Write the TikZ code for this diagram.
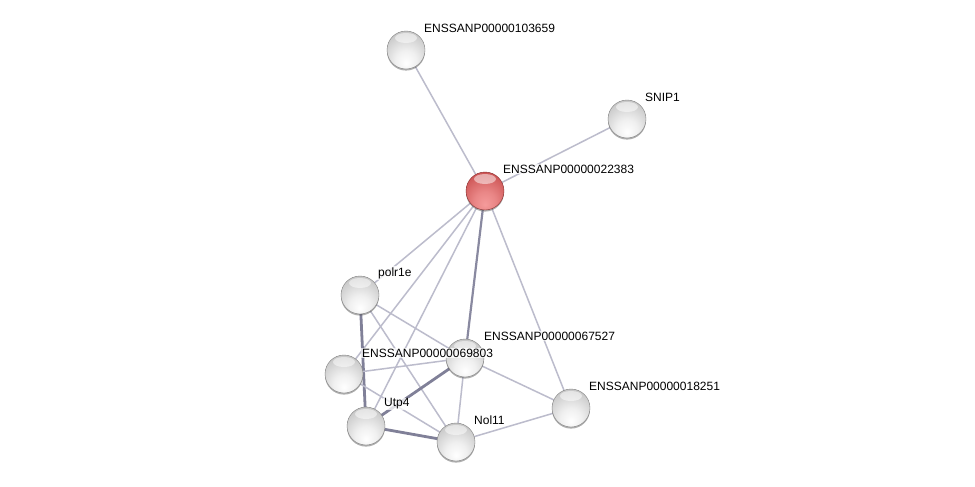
\documentclass[tikz,border=0pt]{standalone}
\usepackage{fontspec}
\setmainfont{Liberation Sans}
\usetikzlibrary{shadows}
\pgfdeclarelayer{bg}
\pgfsetlayers{bg,main}
\definecolor{edgethin}{RGB}{188,188,204}
\definecolor{edgethick}{RGB}{128,128,152}
\definecolor{redrim}{RGB}{180,62,62}
\definecolor{redmid}{RGB}{205,85,85}
\definecolor{redlow}{RGB}{245,155,155}
\pgfdeclareradialshading{stringball}{\pgfpoint{0bp}{-18bp}}{color(0bp)=(white); color(14bp)=(black!6); color(34bp)=(black!22); color(52bp)=(black!27); color(62bp)=(black!38); color(72bp)=(black!50)}
\pgfdeclareradialshading{stringred}{\pgfpoint{0bp}{-18bp}}{color(0bp)=(redlow); color(14bp)=(redlow!70!redmid); color(34bp)=(redmid); color(55bp)=(redmid!85!redrim); color(72bp)=(redrim)}
\begin{document}
\begin{tikzpicture}[x=1pt,y=-1pt,
  prot/.style={circle, minimum size=38pt, inner sep=0pt, shading=stringball, draw=black!50, line width=0.4pt,
     drop shadow={shadow xshift=0pt, shadow yshift=-1.6pt, opacity=0.45, fill=black!70},
     path picture={\fill[white, opacity=0.5] ([yshift=-7pt]path picture bounding box.north) ellipse (11pt and 5pt);}},
  query/.style={prot, shading=stringred, draw=redrim!75!black},
  thin/.style={draw=edgethin, line width=1.5pt},
  mid/.style={draw=edgethick!85!edgethin, line width=2.2pt},
  thick/.style={draw=edgethick, line width=2.8pt},
  lbl/.style={anchor=west, font=\fontsize{12}{14}\selectfont, fill=white, fill opacity=0.75, text opacity=1, inner sep=1pt}]
\begin{pgfonlayer}{bg}
\fill[white] (0,0) rectangle (975,487);
\end{pgfonlayer}
\useasboundingbox (0,0) rectangle (975,487);
\node[prot] (n103659) at (406,50) {};
\node[prot] (snip1) at (627,119) {};
\node[query] (n22383) at (485,191) {};
\node[prot] (polr1e) at (360,295) {};
\node[prot] (n69803) at (344,374) {};
\node[prot] (n67527) at (465,358) {};
\node[prot] (utp4) at (366,426) {};
\node[prot] (nol11) at (456,442) {};
\node[prot] (n18251) at (571,408) {};
\begin{pgfonlayer}{bg}
\draw[thin] (n22383.center) -- (n103659.center);
\draw[thin] (n22383.center) -- (snip1.center);
\draw[thin] (n22383.center) -- (polr1e.center);
\draw[thin] (n22383.center) -- (n69803.center);
\draw[thin] (n22383.center) -- (utp4.center);
\draw[mid] (n22383.center) -- (n67527.center);
\draw[thin] (n22383.center) -- (n18251.center);
\draw[thick] (polr1e.center) -- (utp4.center);
\draw[thin] (polr1e.center) -- (n67527.center);
\draw[thin] (polr1e.center) -- (nol11.center);
\draw[thin] (n69803.center) -- (n67527.center);
\draw[thin] (n69803.center) -- (nol11.center);
\draw[thick] (utp4.center) -- (n67527.center);
\draw[thick] (utp4.center) -- (nol11.center);
\draw[thin] (n67527.center) -- (nol11.center);
\draw[thin] (n67527.center) -- (n18251.center);
\draw[thin] (nol11.center) -- (n18251.center);
\end{pgfonlayer}
\node[lbl] (l103659) at (423,28) {ENSSANP00000103659};
\node[lbl] (lsnip1) at (644,97) {SNIP1};
\node[lbl] (l22383) at (502,169) {ENSSANP00000022383};
\node[lbl] (lpolr1e) at (377,273) {polr1e};
\node[lbl] (l69803) at (361,353) {ENSSANP00000069803};
\node[lbl] (l67527) at (483,336) {ENSSANP00000067527};
\node[lbl] (lutp4) at (383,404) {Utp4};
\node[lbl] (lnol11) at (473,420) {Nol11};
\node[lbl] (l18251) at (588,386) {ENSSANP00000018251};
\end{tikzpicture}
\end{document}
